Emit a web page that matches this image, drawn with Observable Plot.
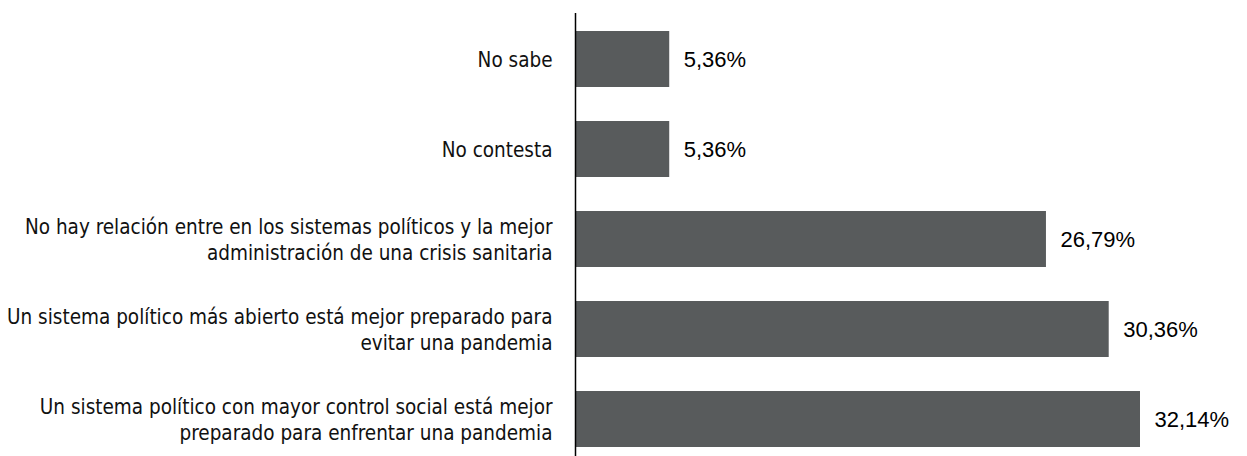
<!DOCTYPE html>
<html>
<head>
<meta charset="utf-8">
<script src="https://cdn.jsdelivr.net/npm/d3@7"></script>
<script src="https://cdn.jsdelivr.net/npm/@observablehq/plot@0.6"></script>
<style>
  html, body { margin: 0; padding: 0; background: #fff; }
  svg { display: block; }
</style>
</head>
<body>
<div id="chart"></div>
<script>
const categories = [
  "No sabe",
  "No contesta",
  "No hay relación entre en los sistemas políticos y la mejor\nadministración de una crisis sanitaria",
  "Un sistema político más abierto está mejor preparado para\nevitar una pandemia",
  "Un sistema político con mayor control social está mejor\npreparado para enfrentar una pandemia"
];
const values = [5.36, 5.36, 26.79, 30.36, 32.14];

const data = categories.map((c, i) => ({cat: c, value: values[i]}));
const fmt = v => v.toFixed(2).replace(".", ",") + "%";

const chart = Plot.plot({
  width: 1247,
  height: 456,
  marginLeft: 575,
  marginRight: 107,
  marginTop: 13,
  marginBottom: 0,
  x: {domain: [0, 32.14], axis: null},
  y: {domain: categories, range: [13, 464], paddingInner: 0.38, paddingOuter: 0.188, axis: null},
  marks: [
    Plot.barX(data, {x: "value", y: "cat", fill: "#585b5c"}),
    Plot.ruleX([0], {stroke: "#000", strokeWidth: 1.5}),
    Plot.text(data, {
      x: 0, y: "cat", text: "cat", textAnchor: "end", dx: -23, dy: -1,
      fontSize: 20.5, lineHeight: 1.28, fill: "#111",
      fontFamily: "'DejaVu Sans Condensed', 'DejaVu Sans', sans-serif",
      fontStretch: "condensed"
    }),
    Plot.text(data, {
      x: "value", y: "cat", text: d => fmt(d.value), textAnchor: "start", dx: 14,
      fontSize: 22, fill: "#000",
      fontFamily: "'Liberation Sans', Arial, sans-serif"
    })
  ]
});
document.getElementById("chart").appendChild(chart);
</script>
</body>
</html>
